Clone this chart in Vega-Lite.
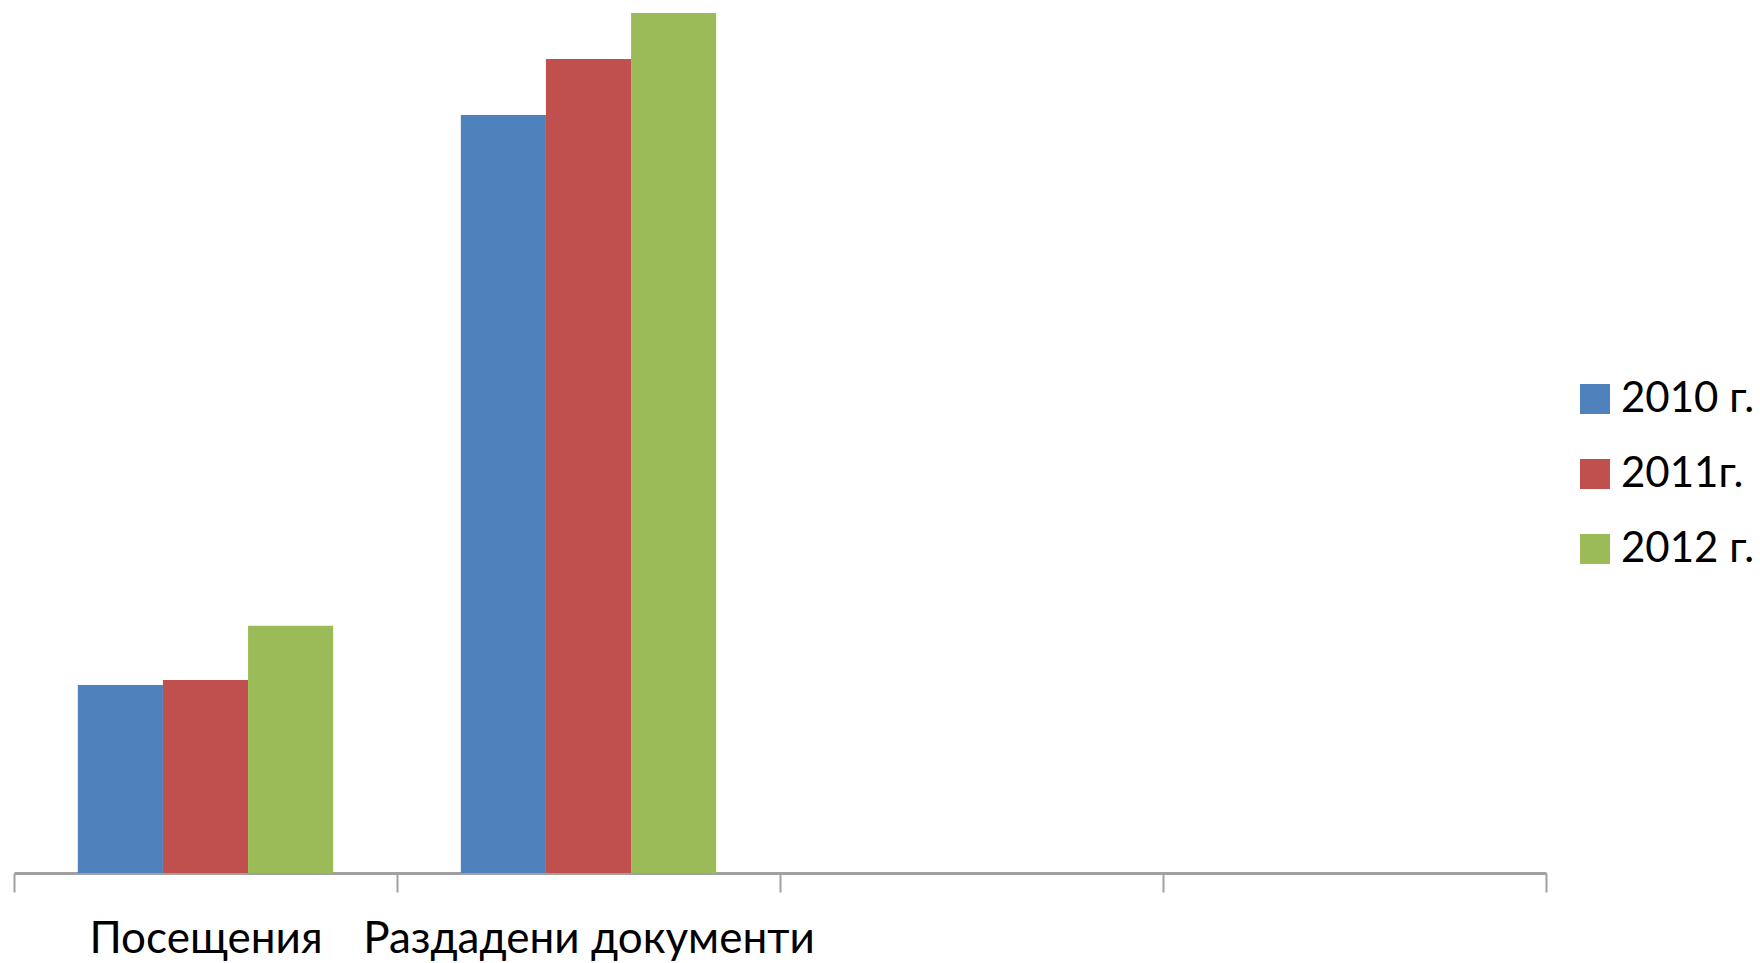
{
  "$schema": "https://vega.github.io/schema/vega-lite/v6.json",
  "width": 1532,
  "height": 873,
  "autosize": {"type": "none"},
  "padding": {"left": 14, "top": 0, "right": 214, "bottom": 90},
  "background": "white",
  "config": {"view": {"stroke": null}},
  "data": {
    "values": [
      {"category": "Посещения", "year": "2010 г.", "value": 1507},
      {"category": "Посещения", "year": "2011г.", "value": 1548},
      {"category": "Посещения", "year": "2012 г.", "value": 1983},
      {"category": "Раздадени документи", "year": "2010 г.", "value": 6078},
      {"category": "Раздадени документи", "year": "2011г.", "value": 6527},
      {"category": "Раздадени документи", "year": "2012 г.", "value": 6896}
    ]
  },
  "mark": {"type": "bar"},
  "encoding": {
    "x": {
      "field": "category",
      "type": "nominal",
      "scale": {
        "domain": ["Посещения", "Раздадени документи", "c3", "c4"],
        "paddingInner": 0,
        "paddingOuter": 0
      },
      "axis": {
        "title": null,
        "labelExpr": "datum.value == 'c3' || datum.value == 'c4' ? '' : datum.value",
        "tickBand": "extent",
        "domainColor": "#a0a0a0",
        "domainWidth": 3,
        "tickColor": "#a0a0a0",
        "tickWidth": 2,
        "tickSize": 19,
        "labelFont": "Lato",
        "labelFontSize": 44,
        "labelColor": "black",
        "labelPadding": 25,
        "labelAngle": 0,
        "labelLimit": 0,
        "labelOverlap": false
      }
    },
    "xOffset": {
      "field": "year",
      "type": "nominal",
      "sort": ["2010 г.", "2011г.", "2012 г."],
      "scale": {"paddingInner": 0, "paddingOuter": 0.75}
    },
    "y": {
      "field": "value",
      "type": "quantitative",
      "scale": {"domain": [0, 7000]},
      "axis": null
    },
    "color": {
      "field": "year",
      "type": "nominal",
      "scale": {
        "domain": ["2010 г.", "2011г.", "2012 г."],
        "range": ["#4F81BD", "#C0504D", "#9BBB59"]
      },
      "legend": {
        "orient": "none",
        "legendX": 1560,
        "legendY": 378,
        "title": null,
        "padding": 0,
        "symbolType": "square",
        "symbolSize": 900,
        "symbolStrokeWidth": 0,
        "labelFont": "Lato",
        "labelFontSize": 42,
        "labelColor": "black",
        "labelOffset": 5,
        "labelLimit": 0,
        "rowPadding": 33
      }
    }
  }
}
